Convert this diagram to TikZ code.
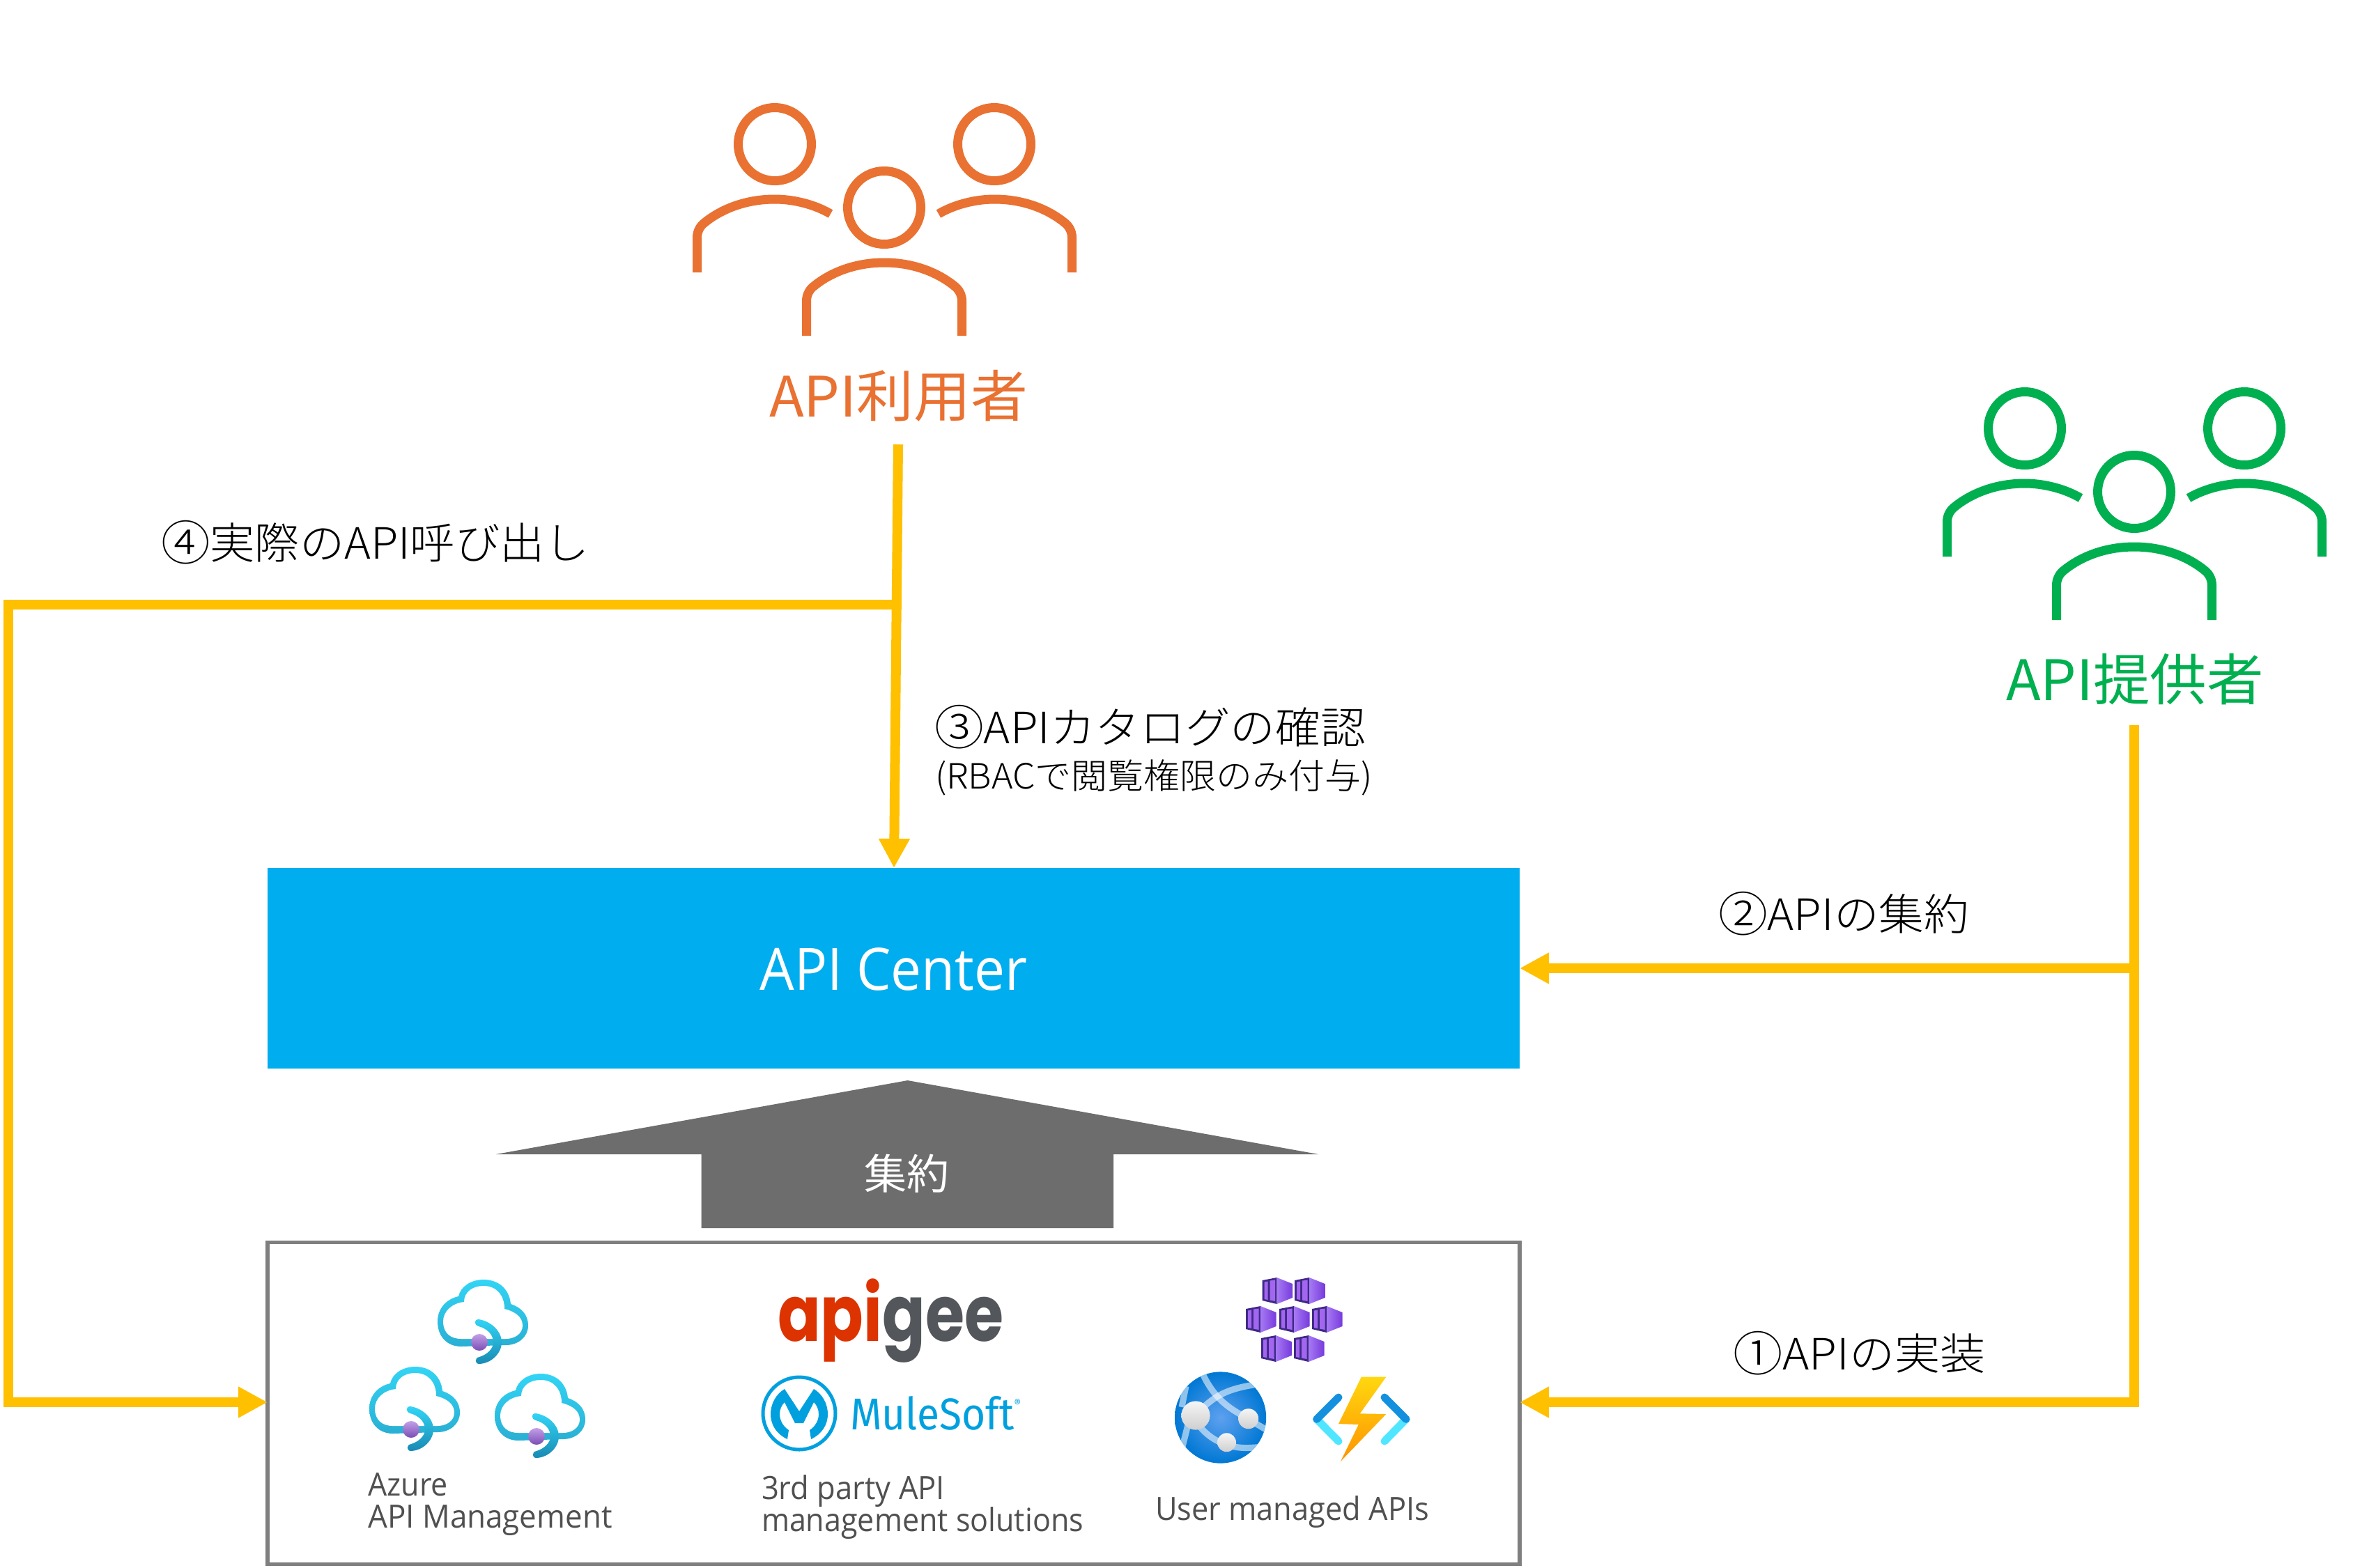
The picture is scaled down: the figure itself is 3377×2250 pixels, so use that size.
\documentclass[tikz,border=0pt]{standalone}
\usepackage{graphicx}
\usepackage{fontspec}
\setmainfont{Noto Sans CJK JP Light}
\newfontfamily\cjkreg{Noto Sans CJK JP}
\newfontfamily\segfont{Open Sans}
\newfontfamily\popfont{Poppins}
\newfontfamily\mulefont{Fira Sans}
\usetikzlibrary{arrows.meta}
\definecolor{flow}{HTML}{FFC000}
\definecolor{usercol}{HTML}{E97132}
\definecolor{provcol}{HTML}{00B050}
\definecolor{azblue}{HTML}{00ADEE}
\definecolor{boxline}{HTML}{7F7F7F}
\definecolor{bigarrow}{HTML}{6D6D6D}
\definecolor{captext}{HTML}{505050}
\definecolor{mule}{HTML}{00A0DF}
\definecolor{cloudtop}{HTML}{32D4F5}
\definecolor{cloudbot}{HTML}{29B0D4}
\definecolor{arcbot}{HTML}{198AB3}
\definecolor{dottop}{HTML}{C3A0E8}
\definecolor{dotbot}{HTML}{7A4DB5}
\definecolor{cubedark}{HTML}{3F2A87}
\definecolor{cubeleft}{HTML}{A67AF4}
\definecolor{cuberight}{HTML}{773ADC}
\definecolor{cubebar}{HTML}{A366F0}
\definecolor{globein}{HTML}{5EA0EF}
\definecolor{globeout}{HTML}{0078D4}
\definecolor{balltop}{HTML}{F5F5F5}
\definecolor{ballbot}{HTML}{CFCFCF}
\definecolor{brlight}{HTML}{50E6FF}
\definecolor{brdark}{HTML}{1490DF}
\definecolor{bolttop}{HTML}{FFD70F}
\definecolor{boltbot}{HTML}{FF9300}
\newcommand{\fitw}[2]{\resizebox{#1}{\height}{#2}}
\newcommand{\circd}[1]{\raisebox{-1pt}{\fontsize{34}{34}\selectfont #1}}
\tikzset{
  lbl/.style={inner sep=0pt,outer sep=0pt,anchor=base west},
  flowline/.style={draw=flow,line width=7pt},
  flowarrow/.style={flowline,-{Triangle[length=21pt,width=21pt]}},
  figline/.style={line width=6.5pt},
  small/.style={lbl,text=captext,font=\segfont\fontsize{23}{23}\selectfont},
  jpl/.style={lbl,text=black,font=\fontsize{31}{31}\selectfont},
}
\newcommand{\peoplegroup}[3]{%
  \begin{scope}[shift={(#2,#3)},draw=#1,figline]
    \draw (0,0) circle[radius=26.25pt];
    \draw (-157,-91) circle[radius=26.25pt];
    \draw (158,-91) circle[radius=26.25pt];
    \draw (-111.5,184) -- (-111.5,134) .. controls (-111.5,125) and (-107,117) .. (-100,112)
      .. controls (-75,92) and (-40,79) .. (0,79)
      .. controls (40,79) and (75,92) .. (100,112)
      .. controls (107,117) and (111.5,125) .. (111.5,134) -- (111.5,184);
    \begin{scope}[shift={(-157,-91)}]
      \draw (-111.5,184) -- (-111.5,134) .. controls (-111.5,125) and (-107,117) .. (-100,112)
        .. controls (-75,92) and (-40,79) .. (0,79)
        .. controls (28,79) and (58,87) .. (80,100);
    \end{scope}
    \begin{scope}[shift={(158,-91)}]
      \draw (111.5,184) -- (111.5,134) .. controls (111.5,125) and (107,117) .. (100,112)
        .. controls (75,92) and (40,79) .. (0,79)
        .. controls (-28,79) and (-58,87) .. (-80,100);
    \end{scope}
  \end{scope}}
\newcommand{\azcloud}[2]{%
  \begin{scope}[shift={(#1,#2)}]
    \shade[top color=cloudtop,bottom color=cloudbot]
      (34,96) .. controls (14,96) and (0,82) .. (0,60)
      .. controls (0,42) and (12,28) .. (30,24)
      .. controls (33,10) and (48,0) .. (66,0)
      .. controls (88,0) and (103,14) .. (105,35)
      .. controls (120,40) and (130,50) .. (130,66)
      .. controls (130,82) and (116,94) .. (98,94) -- cycle;
    \fill[white]
      (34,85) .. controls (18,85) and (8,76) .. (8,60)
      .. controls (8,46) and (20,34) .. (38,32)
      .. controls (38,18) and (50,9) .. (66,9)
      .. controls (84,9) and (96,22) .. (96,42)
      .. controls (112,46) and (122,54) .. (122,66)
      .. controls (122,78) and (110,85) .. (98,85) -- cycle;
    \shade[top color=cloudtop,bottom color=arcbot]
      (59,57) .. controls (78,60) and (92,75) .. (92,90)
      .. controls (92,105) and (78,120) .. (60,121)
      .. controls (53,121) and (53,112) .. (60,111)
      .. controls (70,108) and (80,100) .. (80,90)
      .. controls (80,78) and (70,70) .. (59,67)
      .. controls (52,65) and (52,57) .. (59,57) -- cycle;
    \shade[top color=dottop,bottom color=dotbot] (60,90) circle[radius=6pt];
  \end{scope}}
\newcommand{\kcube}[2]{%
  \begin{scope}[shift={(#1,#2)}]
    \fill[cubedark] (0,4) -- (21,0) -- (21,38) -- (0,33) -- cycle;
    \shade[left color=cubeleft,right color=cuberight] (21,0) -- (43.5,9) -- (43.5,29) -- (21,38) -- cycle;
    \fill[cubebar] (3,6.5) -- (8,5.5) -- (8,32) -- (3,31) -- cycle;
    \fill[cubebar] (11,4.5) -- (18.5,3.5) -- (18.5,34) -- (11,32.5) -- cycle;
  \end{scope}}
\begin{document}
\begin{tikzpicture}[x=0.5pt,y=-0.5pt]
\useasboundingbox (0,0) rectangle (3377,2250);
\fill[white] (0,0) rectangle (3377,2250);

% people
\peoplegroup{usercol}{1269}{298}
\peoplegroup{provcol}{3063}{706}
\node[lbl,text=usercol,font=\cjkreg\fontsize{40}{40}\selectfont] (users) at (1104,598) {\fitw{185.5pt}{API利用者}};
\node[lbl,text=provcol,font=\cjkreg\fontsize{40}{40}\selectfont] (providers) at (2879,1005) {\fitw{185pt}{API提供者}};

% main boxes
\node[fill=azblue,draw=none,inner sep=0pt,outer sep=0pt,minimum width=898.5pt,minimum height=144pt,
      text=white,text height=31pt,text depth=0pt,font=\segfont\fontsize{42}{42}\selectfont]
      (center) at (1282.5,1390) {\fitw{192pt}{API Center}};
\node[draw=boxline,line width=2.75pt,inner sep=0pt,outer sep=0pt,minimum width=898.5pt,minimum height=231pt]
      (apis) at (1282.5,2014.5) {};

% aggregate arrow
\fill[bigarrow] (1302.6,1551) -- (1892,1657) -- (1598,1657) -- (1598,1763) -- (1006.5,1763) -- (1006.5,1657) -- (712,1657) -- cycle;
\node[lbl,text=white,font=\cjkreg\fontsize{30}{30}\selectfont] (agg) at (1240,1707) {\fitw{61pt}{集約}};

% connector anchors
\coordinate (uTop) at (1289,638);
\coordinate (uBranch) at (1288,868);
\coordinate (uTip) at (1283,1246);
\coordinate (uCorner) at (12,868);
\coordinate (uDown) at (12,2013);
\coordinate (pTop) at (3062.6,1041);
\coordinate (pMid) at (3062.6,1390);
\coordinate (pBot) at (3062.6,2013);

% connectors
\draw[flowarrow] (uTop) -- (uTip);
\draw[flowarrow] ([xshift=3pt]uBranch) -- (uCorner) -- (uDown) -- (apis.west |- uDown);
\draw[flowline] (pTop) -- ([yshift=-3.5pt]pBot);
\draw[flowarrow] (pMid) -- (center.east);
\draw[flowarrow] ([xshift=3.5pt]pBot) -- (apis.east |- pBot);

% flow labels
\node[jpl] (l4) at (231,802) {\fitw{307.5pt}{\circd{④}実際のAPI呼び出し}};
\node[jpl] (l3) at (1341,1067) {\fitw{309.5pt}{\circd{③}APIカタログの確認}};
\node[lbl,text=black,font=\fontsize{25}{25}\selectfont] (l3b) at (1342,1132) {\fitw{314pt}{(RBACで閲覧権限のみ付与)}};
\node[jpl] (l2) at (2466,1335) {\fitw{180pt}{\circd{②}APIの集約}};
\node[jpl] (l1) at (2487,1966) {\fitw{181pt}{\circd{①}APIの実装}};

% Azure API Management
\azcloud{628}{1837}
\azcloud{530}{1962}
\azcloud{710}{1972}
\node[small] (az1) at (528.5,2147) {\fitw{57.25pt}{Azure}};
\node[small] (az2) at (528.5,2193) {\fitw{175pt}{API Management}};

% apigee
\node[lbl,font=\popfont\bfseries\fontsize{56}{56}\selectfont] (apigee) at (1116,1925)
  {\fitw{162pt}{\textcolor[HTML]{DD3300}{api}\textcolor[HTML]{53565A}{gee}}};

% MuleSoft
\begin{scope}[shift={(1147,2029)}]
  \draw[mule,line width=2.5pt] (0,0) circle[radius=26pt];
  \fill[mule] (-17,37) .. controls (-32,30) and (-41,17) .. (-41,1)
    .. controls (-41,-14) and (-33,-28) .. (-21,-35) -- (0,-3) -- (21,-35)
    .. controls (33,-28) and (41,-14) .. (41,1)
    .. controls (41,17) and (32,30) .. (17,37) -- (15,24)
    .. controls (23,19) and (28,10) .. (28,1)
    .. controls (28,-6) and (25,-12) .. (21,-16) -- (6,14) -- (-6,14) -- (-21,-16)
    .. controls (-25,-12) and (-28,-6) .. (-28,1)
    .. controls (-28,10) and (-23,19) .. (-15,24) -- cycle;
\end{scope}
\node[lbl,text=mule,font=\mulefont\fontsize{32}{32}\selectfont] (mulesoft) at (1220,2052)
  {\fitw{122.5pt}{MuleSoft\raisebox{16pt}{\fontsize{8}{8}\selectfont ®}}};
\node[small] (tp1) at (1093,2152) {\fitw{131.5pt}{3rd party API}};
\node[small] (tp2) at (1093,2198) {\fitw{231pt}{management solutions}};

% Kubernetes cubes
\kcube{1811.5}{1834}
\kcube{1858}{1834}
\kcube{1788}{1875}
\kcube{1836}{1875}
\kcube{1883}{1875}
\kcube{1810}{1917}
\kcube{1857}{1917}

% Globe
\shade[inner color=globein,outer color=globeout] (1751.6,2035) circle[radius=32.8pt];
\begin{scope}
  \clip (1751.6,2035) circle[radius=32.8pt];
  \begin{scope}[draw=white,draw opacity=0.55,line width=4.5pt]
    \draw (1716,2032) .. controls (1740,2005) and (1760,1992) .. (1815,1986);
    \draw (1726,1972) .. controls (1740,2002) and (1758,2020) .. (1791,2036);
    \draw (1716,2040) .. controls (1728,2058) and (1745,2070) .. (1760,2073);
    \draw (1760,2074) .. controls (1780,2080) and (1790,2079) .. (1812,2077);
    \draw (1791,2037) -- (1820,2054);
    \draw (1702,1990) -- (1696,2020);
    \draw (1705,2045) -- (1695,2085);
  \end{scope}
\end{scope}
\shade[top color=balltop,bottom color=ballbot] (1716,2032) circle[radius=10.3pt];
\shade[top color=balltop,bottom color=ballbot] (1791.7,2036.7) circle[radius=7.25pt];
\shade[top color=balltop,bottom color=ballbot] (1760.5,2070.7) circle[radius=6.75pt];

% Functions
\draw[draw=brlight,line width=5.5pt,line cap=round] (1889.7,2037.3) -- (1921,2069);
\draw[draw=brlight,line width=5.5pt,line cap=round] (2018,2037.3) -- (1987,2069);
\draw[draw=brdark,line width=5.5pt,line cap=round] (1921,2006) -- (1889.7,2037.3);
\draw[draw=brdark,line width=5.5pt,line cap=round] (1987,2006) -- (2018,2037.3);
\shade[top color=bolttop,bottom color=boltbot] (1953.8,1976.7) -- (1989.3,1976.7) -- (1951.8,2029.3) -- (1989.3,2030) -- (1924,2098) -- (1949.8,2045) -- (1921,2044) -- cycle;
\node[small] (uma) at (1658,2182) {\fitw{196.5pt}{User managed APIs}};
\end{tikzpicture}
\end{document}
